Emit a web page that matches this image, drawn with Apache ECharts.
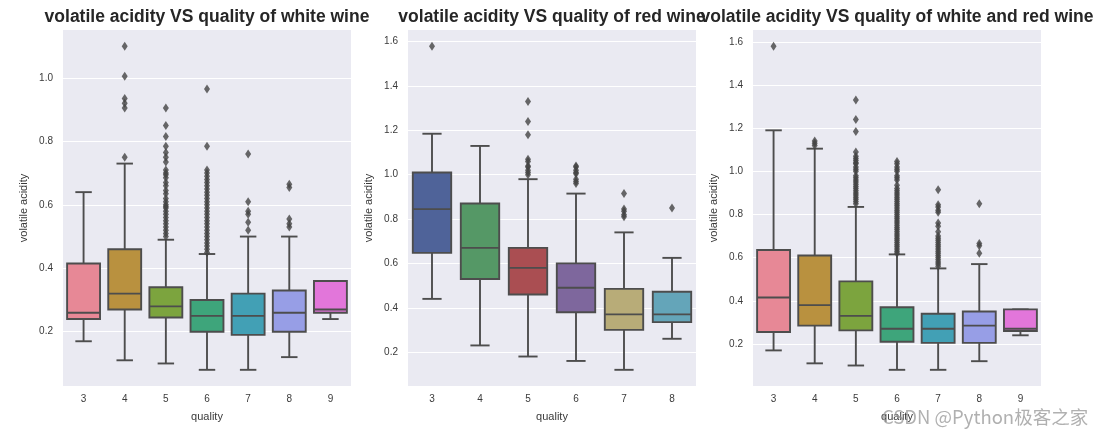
<!DOCTYPE html>
<html>
<head>
<meta charset="utf-8">
<script src="https://cdn.jsdelivr.net/npm/echarts@6/dist/echarts.min.js"></script>
<style>
  html, body { margin: 0; padding: 0; background: #fff; }
  #container { width: 1104px; height: 436px; }
</style>
</head>
<body>
<div id="container"></div>
<script>
var whiteQuality = ['3', '4', '5', '6', '7', '8', '9'];
var redQuality = ['3', '4', '5', '6', '7', '8'];
var allQuality = ['3', '4', '5', '6', '7', '8', '9'];

// [lower whisker, q1, median, q3, upper whisker]
var whiteBox = [
  [0.17, 0.24, 0.26, 0.415, 0.64],
  [0.11, 0.27, 0.32, 0.46, 0.73],
  [0.10, 0.245, 0.28, 0.34, 0.49],
  [0.08, 0.20, 0.25, 0.30, 0.445],
  [0.08, 0.19, 0.25, 0.32, 0.50],
  [0.12, 0.20, 0.26, 0.33, 0.50],
  [0.24, 0.26, 0.27, 0.36, 0.36]
];
var redBox = [
  [0.44, 0.6475, 0.845, 1.01, 1.185],
  [0.23, 0.53, 0.67, 0.87, 1.13],
  [0.18, 0.46, 0.58, 0.67, 0.98],
  [0.16, 0.38, 0.49, 0.60, 0.915],
  [0.12, 0.30, 0.37, 0.485, 0.74],
  [0.26, 0.335, 0.37, 0.4725, 0.625]
];
var allBox = [
  [0.17, 0.255, 0.415, 0.635, 1.19],
  [0.11, 0.285, 0.38, 0.61, 1.105],
  [0.10, 0.263, 0.33, 0.49, 0.835],
  [0.08, 0.21, 0.27, 0.37, 0.615],
  [0.08, 0.205, 0.27, 0.34, 0.55],
  [0.12, 0.205, 0.285, 0.35, 0.57],
  [0.24, 0.26, 0.27, 0.36, 0.36]
];

// outliers per quality
var whiteFliers = [
  [],
  [1.10, 1.005, 0.935, 0.92, 0.905, 0.75],
  [0.905, 0.85, 0.815, 0.785, 0.765, 0.75, 0.735, 0.71, 0.70, 0.695, 0.685, 0.67, 0.66, 0.645, 0.635,
   0.62, 0.61, 0.60, 0.595, 0.59, 0.58, 0.57, 0.56, 0.55, 0.54, 0.53, 0.52, 0.51, 0.50],
  [0.965, 0.785, 0.71, 0.70, 0.69, 0.68, 0.67, 0.66, 0.65, 0.64, 0.63, 0.62, 0.61, 0.60, 0.59, 0.58,
   0.57, 0.56, 0.55, 0.54, 0.53, 0.52, 0.51, 0.50, 0.49, 0.48, 0.47, 0.46, 0.45],
  [0.76, 0.61, 0.58, 0.57, 0.545, 0.52],
  [0.665, 0.655, 0.555, 0.54, 0.53],
  []
];
var redFliers = [
  [1.58],
  [],
  [1.33, 1.24, 1.18, 1.07, 1.06, 1.04, 1.035, 1.02, 1.01, 1.0],
  [1.04, 1.035, 1.02, 1.01, 1.005, 0.98, 0.97, 0.96],
  [0.915, 0.845, 0.835, 0.82, 0.81],
  [0.85]
];
var allFliers = [
  [1.58],
  [1.14, 1.13, 1.12],
  [1.33, 1.24, 1.185, 1.09, 1.07, 1.06, 1.05, 1.04, 1.035, 1.02, 1.01, 1.0, 0.98, 0.97, 0.96, 0.95,
   0.94, 0.93, 0.92, 0.91, 0.90, 0.89, 0.88, 0.87, 0.86, 0.85],
  [1.045, 1.035, 1.02, 1.01, 1.0, 0.98, 0.97, 0.96, 0.935, 0.92, 0.91, 0.90, 0.89, 0.88, 0.87, 0.86,
   0.85, 0.84, 0.83, 0.82, 0.81, 0.80, 0.79, 0.78, 0.77, 0.76, 0.75, 0.74, 0.73, 0.72, 0.71, 0.70,
   0.69, 0.68, 0.67, 0.66, 0.65, 0.64, 0.63, 0.62],
  [0.915, 0.845, 0.835, 0.82, 0.81, 0.76, 0.745, 0.72, 0.70, 0.69, 0.68, 0.67, 0.66, 0.65, 0.64, 0.63,
   0.62, 0.61, 0.60, 0.59, 0.58, 0.57, 0.56],
  [0.85, 0.665, 0.655, 0.62],
  []
];

var smallTicks = [0.2, 0.4, 0.6, 0.8, 1.0];
var bigTicks = [0.2, 0.4, 0.6, 0.8, 1.0, 1.2, 1.4, 1.6];

var huslColors = ['#e78896', '#b9913f', '#7ca43e', '#3ea57b', '#42a0b5', '#979ee6', '#e276da'];
var deepColors = ['#4f6399', '#559866', '#aa4e52', '#7e679d', '#b8ac78', '#64a5b9'];

var lineColor = '#4d4d4d';
var font = 'Liberation Sans, Arial, sans-serif';

var panels = [
  {title: 'volatile acidity VS quality of white wine', cats: whiteQuality, box: whiteBox, fliers: whiteFliers,
   colors: huslColors, ticks: smallTicks, min: 0.029, max: 1.151, left: 63, right: 753, center: 207},
  {title: 'volatile acidity VS quality of red wine', cats: redQuality, box: redBox, fliers: redFliers,
   colors: deepColors, ticks: bigTicks, min: 0.047, max: 1.653, left: 408, right: 408, center: 552},
  {title: 'volatile acidity VS quality of white and red wine', cats: allQuality, box: allBox, fliers: allFliers,
   colors: huslColors, ticks: bigTicks, min: 0.005, max: 1.655, left: 753, right: 63, center: 897}
];

function boxRenderer(colors) {
  return function (params, api) {
    var i = api.value(0);
    var band = api.size([1, 0])[0];
    var hw = band * 0.4;
    var cw = hw / 2;
    var pMin = api.coord([i, api.value(1)]);
    var pQ1 = api.coord([i, api.value(2)]);
    var pMed = api.coord([i, api.value(3)]);
    var pQ3 = api.coord([i, api.value(4)]);
    var pMax = api.coord([i, api.value(5)]);
    var x = pMed[0];
    var ls = {stroke: lineColor, lineWidth: 1.9};
    return {
      type: 'group',
      children: [
        {type: 'line', shape: {x1: x, y1: pQ3[1], x2: x, y2: pMax[1]}, style: ls},
        {type: 'line', shape: {x1: x, y1: pQ1[1], x2: x, y2: pMin[1]}, style: ls},
        {type: 'line', shape: {x1: x - cw, y1: pMax[1], x2: x + cw, y2: pMax[1]}, style: ls},
        {type: 'line', shape: {x1: x - cw, y1: pMin[1], x2: x + cw, y2: pMin[1]}, style: ls},
        {type: 'rect', shape: {x: x - hw, y: pQ3[1], width: 2 * hw, height: pQ1[1] - pQ3[1]},
         style: {fill: colors[i], stroke: lineColor, lineWidth: 1.9}},
        {type: 'line', shape: {x1: x - hw, y1: pMed[1], x2: x + hw, y2: pMed[1]}, style: ls}
      ]
    };
  };
}

var grids = [], xAxes = [], yAxes = [], series = [], graphics = [];

panels.forEach(function (p, k) {
  grids.push({
    left: p.left, right: p.right, top: 30, bottom: 50,
    show: true, backgroundColor: '#eaeaf2', borderWidth: 0
  });
  xAxes.push({
    type: 'category', gridIndex: k, data: p.cats,
    axisLine: {show: false}, axisTick: {show: false}, splitLine: {show: false},
    axisLabel: {color: '#3a3a3a', fontSize: 10, margin: 8, fontFamily: font},
    name: 'quality', nameLocation: 'middle', nameGap: 25,
    nameTextStyle: {color: '#3a3a3a', fontSize: 11, fontFamily: font}
  });
  yAxes.push({
    type: 'value', gridIndex: k, min: p.min, max: p.max,
    axisLine: {show: false},
    axisTick: {show: false, customValues: p.ticks},
    axisLabel: {color: '#3a3a3a', fontSize: 10, margin: 10, fontFamily: font, customValues: p.ticks,
                formatter: function (v) { return v.toFixed(1); }},
    splitLine: {show: true, lineStyle: {color: '#ffffff', width: 1.2}},
    name: 'volatile acidity', nameLocation: 'middle', nameGap: 34, nameRotate: 90,
    nameTextStyle: {color: '#3a3a3a', fontSize: 11, fontFamily: font}
  });
  series.push({
    type: 'custom', xAxisIndex: k, yAxisIndex: k,
    renderItem: boxRenderer(p.colors),
    data: p.box.map(function (b, i) { return [i].concat(b); }),
    encode: {x: 0, y: [1, 2, 3, 4, 5]},
    z: 2, silent: true
  });
  var pts = [];
  p.fliers.forEach(function (list, i) {
    list.forEach(function (v) { pts.push([i, v]); });
  });
  series.push({
    type: 'scatter', xAxisIndex: k, yAxisIndex: k, data: pts,
    symbol: 'diamond', symbolSize: [6, 9],
    itemStyle: {color: '#444444'}, z: 3, silent: true
  });
  graphics.push({
    type: 'text', x: p.center, y: 17, z: 10,
    style: {text: p.title, fill: '#262626', font: 'bold 17.5px Liberation Sans, Arial, sans-serif',
            textAlign: 'center', textVerticalAlign: 'middle'}
  });
});

graphics.push({
  type: 'text', x: 882, y: 417, z: 100,
  style: {text: 'CSDN @Python极客之家', fill: 'rgba(150,150,150,0.75)',
          font: '18.5px Noto Sans CJK SC, sans-serif', textAlign: 'left', textVerticalAlign: 'middle'}
});

var chart = echarts.init(document.getElementById('container'));
chart.setOption({
  animation: false,
  backgroundColor: '#ffffff',
  grid: grids,
  xAxis: xAxes,
  yAxis: yAxes,
  series: series,
  graphic: graphics
});
</script>
</body>
</html>
